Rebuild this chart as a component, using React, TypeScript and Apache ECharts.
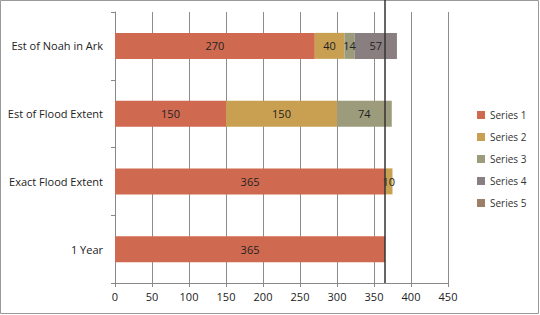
import React, { useEffect, useRef } from "react";
import * as echarts from "echarts";

const categories = ["1 Year", "Exact Flood Extent", "Est of Flood Extent", "Est of Noah in Ark"];
const series1 = [365, 365, 150, 270];
const series2 = [null, 10, 150, 40];
const series3 = [null, null, 74, 14];
const series4 = [null, null, null, 57];
const series5 = [null, null, null, null];
const seriesNames = ["Series 1", "Series 2", "Series 3", "Series 4", "Series 5"];
const seriesColors = ["#cf6a51", "#c9a052", "#9c9b7c", "#8a7f80", "#9c7f69"];
const xTicks = [0, 450, 50];
const refValue = 365;

export default function App() {
  const ref = useRef<HTMLDivElement>(null);
  useEffect(() => {
    document.body.style.margin = "0";
    const chart = echarts.init(ref.current!, null, { renderer: "svg" });
    const data = [series1, series2, series3, series4, series5];
    const refLine = {
      silent: true,
      symbol: "none",
      label: { show: false },
      lineStyle: { color: "#333", width: 1.5, type: "solid" },
      data: [{ xAxis: refValue }],
    };
    chart.setOption({
      animation: false,
      textStyle: { fontFamily: "Open Sans" },
      grid: [
        { left: 115, right: 92, top: 12, bottom: 32 },
        { left: 115, right: 92, top: 0, height: 12 },
      ],
      legend: {
        orient: "vertical",
        left: 472,
        top: 105,
        itemWidth: 8,
        itemHeight: 8,
        itemGap: 12,
        icon: "rect",
        textStyle: { fontSize: 10, color: "#333", fontFamily: "Open Sans" },
        data: seriesNames,
      },
      xAxis: [
        {
          type: "value",
          gridIndex: 0,
          min: xTicks[0],
          max: xTicks[1],
          interval: xTicks[2],
          axisLine: { show: true, lineStyle: { color: "#888" } },
          axisTick: { show: true, length: 4, lineStyle: { color: "#888" } },
          axisLabel: { color: "#222", fontSize: 11, margin: 8 },
          splitLine: { lineStyle: { color: "#8c8c8c", width: 1 } },
        },
        {
          type: "value",
          gridIndex: 1,
          min: xTicks[0],
          max: xTicks[1],
          interval: xTicks[2],
          axisLine: { show: false },
          axisTick: { show: false },
          axisLabel: { show: false },
          splitLine: { show: false },
        },
      ],
      yAxis: [
        {
          type: "category",
          gridIndex: 0,
          data: categories,
          axisLine: { show: true, lineStyle: { color: "#888" } },
          axisTick: { show: true, length: 4, lineStyle: { color: "#888" } },
          axisLabel: { color: "#222", fontSize: 11, margin: 12 },
        },
        {
          type: "value",
          gridIndex: 1,
          min: 0,
          max: 1,
          axisLine: { show: false },
          axisTick: { show: false },
          axisLabel: { show: false },
          splitLine: { show: false },
        },
      ],
      series: [
        ...seriesNames.map((name, i) => ({
          name,
          type: "bar",
          stack: "total",
          barWidth: 26,
          data: data[i],
          itemStyle: { color: seriesColors[i] },
          label: {
            show: true,
            position: "inside",
            color: "#222",
            fontSize: 11,
            formatter: (p: any) => (p.value == null ? "" : String(p.value)),
          },
          ...(i === 0 ? { markLine: refLine } : {}),
        })),
        {
          name: "ref-ext",
          type: "line",
          xAxisIndex: 1,
          yAxisIndex: 1,
          data: [],
          markLine: refLine,
        },
      ],
      graphic: [
        {
          type: "rect",
          shape: { x: 0.5, y: 0.5, width: 538, height: 313 },
          style: { fill: "none", stroke: "#999", lineWidth: 1 },
          silent: true,
        },
      ],
    });
    return () => chart.dispose();
  }, []);
  return <div ref={ref} style={{ width: 540, height: 315 }} />;
}
